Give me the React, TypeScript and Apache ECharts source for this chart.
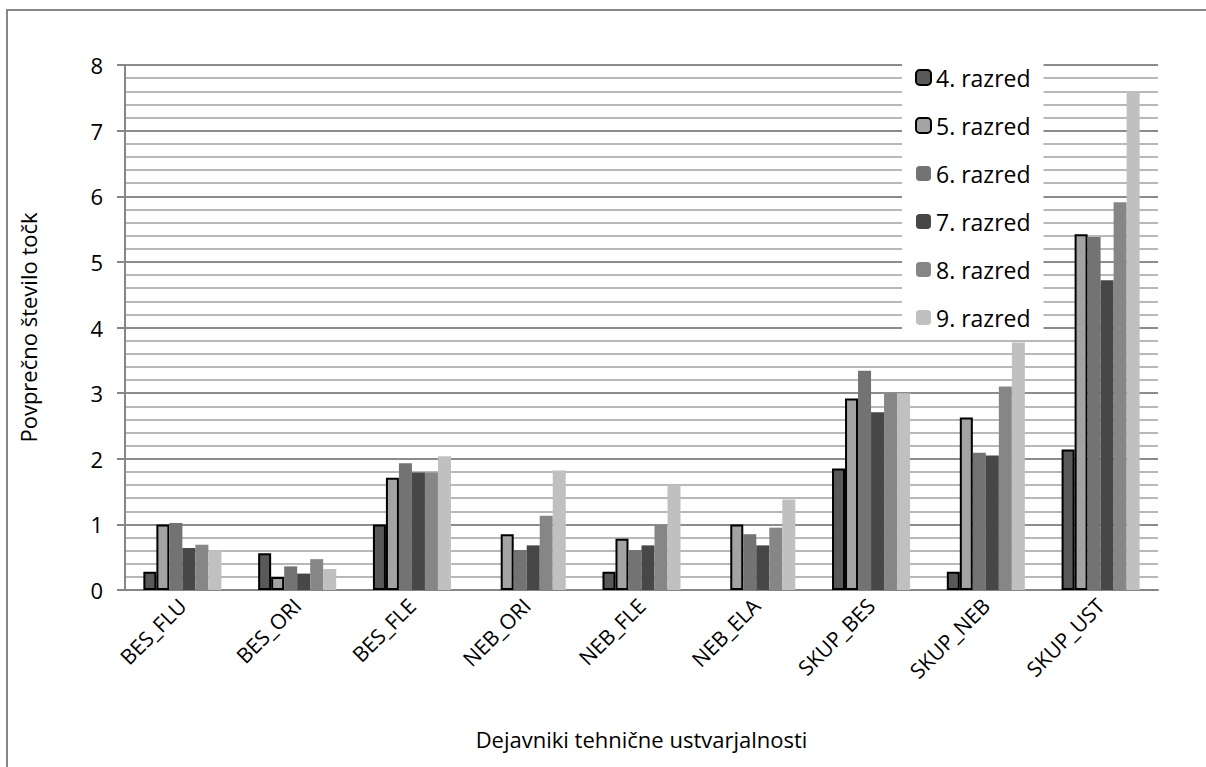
import React, { useEffect, useRef } from "react";
import * as echarts from "echarts";

const categories = ["BES_FLU", "BES_ORI", "BES_FLE", "NEB_ORI", "NEB_FLE", "NEB_ELA", "SKUP_BES", "SKUP_NEB", "SKUP_UST"];
const seriesNames = ["4. razred", "5. razred", "6. razred", "7. razred", "8. razred", "9. razred"];
const razred4 = [0.28, 0.56, 1.0, 0, 0.28, 0, 1.85, 0.28, 2.14];
const razred5 = [1.0, 0.2, 1.71, 0.85, 0.78, 1.0, 2.92, 2.63, 5.42];
const razred6 = [1.02, 0.36, 1.93, 0.61, 0.61, 0.85, 3.34, 2.09, 5.38];
const razred7 = [0.64, 0.25, 1.79, 0.68, 0.68, 0.68, 2.71, 2.05, 4.72];
const razred8 = [0.69, 0.47, 1.79, 1.13, 0.99, 0.95, 3.0, 3.1, 5.91];
const razred9 = [0.6, 0.32, 2.04, 1.82, 1.6, 1.38, 3.0, 3.77, 7.6];
const yTicks = [0, 1, 2, 3, 4, 5, 6, 7, 8];

const seriesValues = [razred4, razred5, razred6, razred7, razred8, razred9];
const colors = ["#595959", "#a3a3a3", "#737373", "#474747", "#868686", "#c0c0c0"];
const bordered = [true, true, false, false, false, false];

const FONT = "'Open Sans', sans-serif";

export default function App() {
  const ref = useRef<HTMLDivElement>(null);
  useEffect(() => {
    if (!ref.current) return;
    const chart = echarts.init(ref.current, undefined, { renderer: "svg" });
    chart.setOption({
      animation: false,
      backgroundColor: "#ffffff",
      textStyle: { fontFamily: FONT },
      grid: { left: 125, right: 48, top: 65, bottom: 177, containLabel: false },
      legend: {
        orient: "vertical",
        left: 902,
        top: 55,
        backgroundColor: "#ffffff",
        padding: [11, 13, 10, 13],
        itemWidth: 15,
        itemHeight: 15,
        itemGap: 25,
        data: seriesNames,
        textStyle: { fontSize: 23, color: "#000", fontFamily: FONT, lineHeight: 22 },
      },
      xAxis: {
        type: "category",
        data: categories,
        axisLine: { show: true, lineStyle: { color: "#868686", width: 2 } },
        axisTick: { show: false },
        axisLabel: { rotate: 45, fontSize: 21, color: "#000", margin: 12, interval: 0, fontFamily: FONT },
        name: "Dejavniki tehnične ustvarjalnosti",
        nameLocation: "middle",
        nameGap: 138,
        nameTextStyle: { fontSize: 22, color: "#000", fontFamily: FONT },
      },
      yAxis: {
        type: "value",
        min: yTicks[0],
        max: yTicks[yTicks.length - 1],
        interval: 1,
        axisLine: { show: true, lineStyle: { color: "#868686", width: 2 } },
        axisTick: { show: true, length: 8, inside: false, lineStyle: { color: "#868686", width: 2 } },
        axisLabel: { fontSize: 22, color: "#000", margin: 22, fontFamily: FONT },
        splitLine: { show: true, lineStyle: { color: "#8c8c8c", width: 2 } },
        minorTick: { show: false, splitNumber: 5 },
        minorSplitLine: { show: true, lineStyle: { color: "#b8b8b8", width: 2 } },
        name: "Povprečno število točk",
        nameLocation: "middle",
        nameGap: 86,
        nameTextStyle: { fontSize: 22, color: "#000", fontFamily: FONT },
      },
      series: seriesValues.map((vals, i) => ({
        name: seriesNames[i],
        type: "bar",
        data: vals.map((v) => (v === 0 ? "-" : v)),
        barGap: "0%",
        barCategoryGap: "32%",
        itemStyle: {
          color: colors[i],
          borderColor: bordered[i] ? "#000000" : colors[i],
          borderWidth: bordered[i] ? 2 : 0,
        },
      })),
      graphic: [
        {
          type: "polyline",
          shape: { points: [[7, 767], [7, 10], [1206, 10]] },
          style: { stroke: "#868686", lineWidth: 2, fill: "none" },
          silent: true,
        },
      ],
    });
    return () => chart.dispose();
  }, []);
  return (
    <div
      ref={ref}
      style={{ position: "fixed", left: 0, top: 0, width: 1206, height: 767 }}
    />
  );
}
